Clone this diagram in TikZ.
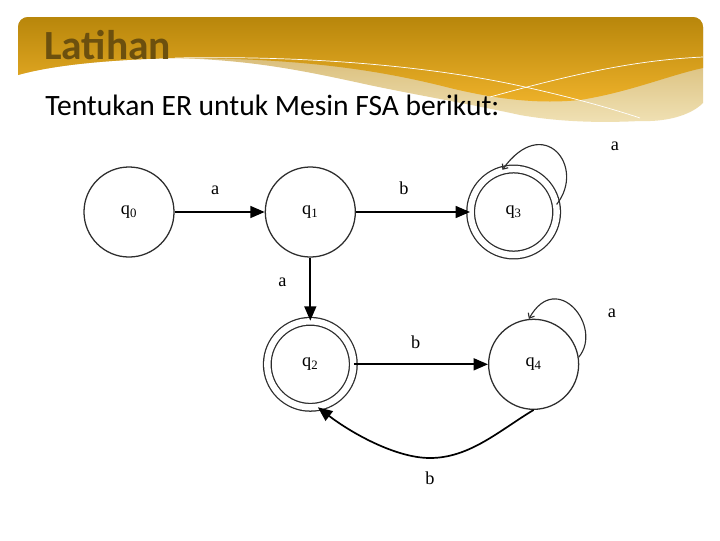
\documentclass[tikz,border=0pt]{standalone}
\usepackage{fontspec}
\setmainfont{Carlito}
\newfontfamily\fsafont{Liberation Serif}
\usepackage{xcolor}
\usetikzlibrary{arrows.meta, positioning}
\definecolor{bannerdark}{RGB}{184,134,11}
\definecolor{bannerlight}{RGB}{238,178,42}
\definecolor{paletop}{RGB}{205,170,90}
\definecolor{palebottom}{RGB}{240,225,180}
\definecolor{titlebrown}{RGB}{108,80,14}
\definecolor{ringgray}{RGB}{45,45,45}

\begin{document}
\begin{tikzpicture}[
  x=0.025cm, y=-0.025cm,
  state/.style={circle, draw=ringgray, line width=0.9pt, minimum size=2.25cm,
                inner sep=0pt, font=\fsafont\fontsize{13}{15}\selectfont},
  accept/.style={state, double, double distance=0.16cm, minimum size=2.15cm},
  arr/.style={-{Triangle[length=0.36cm, width=0.3cm]}, line width=1.2pt},
  looparr/.style={-{Straight Barb[length=3pt, width=5pt]}, line width=0.8pt, draw=ringgray},
  lbl/.style={font=\fsafont\fontsize{13}{15}\selectfont},
]
  \useasboundingbox (0,0) rectangle (720,540);
  \fill[white] (0,0) rectangle (720,540);

  % banner
  \shade[top color=paletop, bottom color=palebottom]
    (18,75) -- (18,27) arc (180:270:10) -- (693,17) arc (270:360:10) -- (703,103)
    .. controls (690,116) and (665,122) .. (640,121)
    .. controls (600,123) and (560,122) .. (520,115)
    .. controls (470,104) and (400,92) .. (360,83)
    .. controls (300,70) and (250,60) .. (175,58)
    .. controls (100,60) and (50,66) .. (18,75) -- cycle;
  \shade[top color=bannerdark, bottom color=bannerlight]
    (18,75) -- (18,27) arc (180:270:10) -- (693,17) arc (270:360:10) -- (703,68)
    .. controls (670,75) and (630,92) .. (580,100)
    .. controls (540,104) and (500,100) .. (450,88)
    .. controls (380,70) and (300,58) .. (175,58)
    .. controls (100,60) and (50,66) .. (18,75) -- cycle;
  \draw[white, line width=0.5pt]
    (175,58) .. controls (330,55) and (450,70) .. (525,87)
    .. controls (570,97) and (610,108) .. (640,118);
  \draw[white, line width=0.5pt]
    (490,97) .. controls (580,72) and (640,60) .. (703,57);

  \node[anchor=base west, inner sep=0pt, text=titlebrown,
        font=\bfseries\fontsize{29.5}{33}\selectfont] (title) at (44,59) {Latihan};
  \node[anchor=base west, inner sep=0pt,
        font=\fontsize{21}{25}\selectfont] (task) at (45,115) {Tentukan ER untuk Mesin FSA berikut:};

  % states
  \node[state] (q0) at (129,212) {q\textsubscript{0}};
  \node[state, right=2.25cm of q0] (q1) {q\textsubscript{1}};
  \node[accept, right=2.85cm of q1] (q3) {q\textsubscript{3}};
  \node[accept, below=1.575cm of q1] (q2) {q\textsubscript{2}};
  \node[state, right=3.35cm of q2] (q4) {q\textsubscript{4}};

  % transitions
  \draw[arr] (q0) -- (q1) node[lbl, pos=0.45, above=0.3cm] (t01) {a};
  \draw[arr] (q1) -- (q3) node[lbl, pos=0.42, above=0.3cm] (t13) {b};
  \draw[arr] (q1) -- (q2) node[lbl, pos=0.39, left=0.46cm] (t12) {a};
  \draw[arr] (q2) -- (q4) node[lbl, pos=0.46, above=0.26cm] (t24) {b};
  \draw[arr] (q4.south) .. controls (500,430) and (470,458) .. (430,458)
    node[lbl, below=0.2cm] (t42) {b}
    .. controls (395,458) and (350,432) .. (q2.-80);
  \draw[looparr] (q3.10) .. controls +(30,-38) and +(41,-57) .. (q3.105);
  \draw[looparr] (q4.9) .. controls +(25,-30) and +(28,-50) .. (q4.96);
  \node[lbl] (t33) at (615,146) {a};
  \node[lbl] (t44) at (612,313) {a};
\end{tikzpicture}
\end{document}
